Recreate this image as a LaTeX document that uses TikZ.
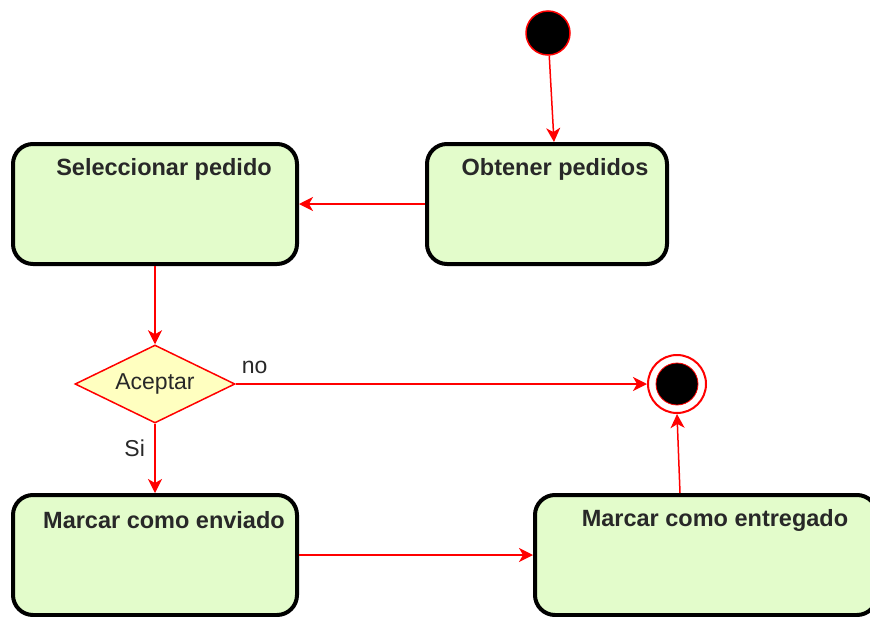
\documentclass[tikz,border=0pt]{standalone}
\usepackage{fontspec}
\setmainfont{Liberation Sans}
\usetikzlibrary{shapes.geometric,arrows.meta,positioning}
\definecolor{stategreen}{RGB}{227,252,203}
\definecolor{decisionyellow}{RGB}{255,255,192}
\definecolor{labelgray}{RGB}{40,40,40}

\begin{document}
\begin{tikzpicture}[x=1pt, y=-1pt,
    state/.style={draw=black, line width=4pt, fill=stategreen, rounded corners=20pt, minimum height=120pt, inner sep=0pt},
    statetext/.style={font=\fontsize{23.5}{28}\selectfont\bfseries, text=labelgray},
    decision/.style={diamond, aspect=2, draw=red, fill=decisionyellow, line width=1.5pt, minimum width=160pt, minimum height=78pt, inner sep=0pt, font=\fontsize{23}{28}\selectfont, text=labelgray},
    flow/.style={draw=red, line width=1.5pt, -{Stealth[length=14pt,width=14pt,inset=4pt]}},
    guard/.style={font=\fontsize{23}{28}\selectfont, text=labelgray}]

    % Marco
    \path[use as bounding box] (0,0) rectangle (870,616);
    \clip (0,0) rectangle (870,616);

    % Inicio y fin
    \node[circle, draw=red, fill=black, line width=1.5pt, minimum size=44pt, inner sep=0pt] (inicio) at (548,33) {};
    \node[circle, draw=red, line width=2pt, minimum size=58pt, inner sep=0pt] (fin) at (677,384) {};
    \node[circle, draw=red, fill=black, line width=0.8pt, minimum size=42pt, inner sep=0pt] (fininner) at (fin) {};

    % Estados
    \node[state, minimum width=240pt] (obtener) at (547,204) {};
    \node[statetext] (obtenerlbl) at ([xshift=8pt,yshift=-27pt]obtener.north) {Obtener pedidos};

    \node[state, minimum width=284pt] (seleccionar) at (155,204) {};
    \node[statetext] (seleccionarlbl) at ([xshift=9pt,yshift=-27pt]seleccionar.north) {Seleccionar pedido};

    \node[state, minimum width=284pt] (enviado) at (155,555) {};
    \node[statetext] (enviadolbl) at ([xshift=9pt,yshift=-27pt]enviado.north) {Marcar como enviado};

    \node[state, minimum width=342pt] (entregado) at (706,555) {};
    \node[statetext] (entregadolbl) at ([xshift=9pt,yshift=-27pt]entregado.north) {Marcar como entregado};

    % Decision
    \node[decision] (aceptar) at (155,384) {Aceptar};

    % Transiciones
    \draw[flow] (inicio) -- ([xshift=7pt]obtener.north);
    \draw[flow] (obtener.west) -- (seleccionar.east);
    \draw[flow] (seleccionar.south) -- (aceptar.north);
    \draw[flow] (aceptar.east) -- node[guard, pos=0, anchor=south west, xshift=2pt, yshift=6pt] (nolbl) {no} (fin.west);
    \draw[flow] (aceptar.south) -- node[guard, pos=0.35, left, xshift=-6pt] (silbl) {Si} (enviado.north);
    \draw[flow] (enviado.east) -- (entregado.west);
    \draw[flow] ([xshift=-26pt]entregado.north) -- (fin.south);

\end{tikzpicture}
\end{document}
